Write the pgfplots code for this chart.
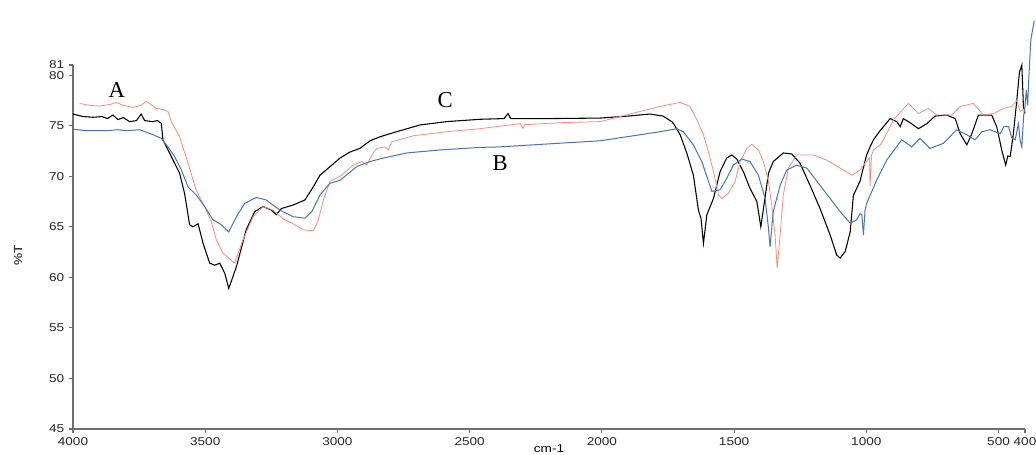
\documentclass[border=0pt]{standalone}
\usepackage{fontspec}
\setmainfont{Liberation Serif}
\newfontfamily\tickfont[FakeStretch=1.2]{Liberation Sans}
\usepackage{pgfplots}
\pgfplotsset{compat=1.18}
\definecolor{specred}{RGB}{248,140,125}
\definecolor{specblue}{RGB}{75,115,178}
\definecolor{axgray}{RGB}{110,110,110}

\begin{document}
\begin{tikzpicture}
\begin{axis}[
  name=ax,
  width=714pt, height=273pt, scale only axis,
  x dir=reverse,
  xmin=400, xmax=4000, ymin=45, ymax=81,
  axis lines=left,
  axis line style={axgray, line width=0.9pt, -},
  xtick={4000,3500,3000,2500,2000,1500,1000,500,400},
  ytick={45,50,55,60,65,70,75,80,81},
  tick align=outside,
  major tick length=3pt,
  tick style={axgray, line width=0.8pt},
  ticklabel style={font=\tickfont\fontsize{8.5}{9}\selectfont, text=black!85},
  /pgf/number format/assume math mode=true,
  /pgf/number format/set thousands separator={},
  clip=false,
]
% C (black)
\addplot[black, line width=0.8pt] coordinates {
(4000,76.15) (3962,75.9) (3924,75.83) (3890,75.9) (3870,75.7) (3849,76.05)
(3830,75.6) (3810,75.8) (3786,75.4) (3760,75.5) (3742,76.15) (3729,75.5)
(3700,75.4) (3680,75.5) (3666,75.23) (3660,73.6) (3634,72.26) (3597,70.3)
(3578,68.3) (3559,65.2) (3546,65.0) (3527,65.3) (3508,63.35) (3483,61.4)
(3464,61.2) (3445,61.4) (3426,60.4) (3411,58.9) (3382,61.05) (3345,64.7)
(3313,66.5) (3281,67.0) (3250,66.65) (3231,66.2) (3212,66.8) (3168,67.15)
(3123,67.65) (3091,68.96) (3066,70.1) (3028,70.95) (2990,71.8) (2952,72.4)
(2915,72.75) (2877,73.5) (2839,73.9) (2776,74.4) (2688,75.07) (2587,75.4)
(2461,75.63) (2370,75.7) (2355,76.2) (2345,75.7) (2200,75.7) (2007,75.75)
(1900,75.95) (1818,76.15) (1769,75.95) (1736,75.4) (1729,75.2) (1704,74.1)
(1679,72.3) (1654,70.1) (1635,66.65) (1625,65.8) (1616,63.35) (1603,66.2)
(1578,67.8) (1553,70.45) (1528,71.8) (1509,72.1) (1490,71.7) (1465,70.45)
(1440,68.8) (1414,67.5) (1399,65.0) (1387,67.15) (1370,70.3) (1352,71.45)
(1314,72.3) (1282,72.2) (1251,71.3) (1213,69.1) (1175,66.8) (1137,64.2)
(1112,62.2) (1099,61.9) (1080,62.55) (1061,64.5) (1049,68.1) (1024,69.5)
(999,72.1) (986,72.9) (973,73.6) (948,74.5) (910,75.7) (885,75.4)
(872,74.9) (860,75.7) (835,75.3) (803,74.7) (771,75.2) (740,75.95)
(696,76.05) (664,75.7) (645,74.2) (620,73.1) (601,74.2) (576,76.05)
(526,76.05) (507,74.9) (488,72.6) (473,71.1) (465,72.0) (456,71.95)
(444,74.2) (431,77.5) (421,80.3) (412,81.0) (406,76.9) (400,76.2)
};
% A (red)
\addplot[specred, line width=0.6pt] coordinates {
(3975,77.2) (3935,77.0) (3899,76.95) (3860,77.1) (3836,77.3) (3810,77.0)
(3773,76.8) (3745,77.0) (3723,77.4) (3700,77.0) (3685,76.7) (3660,76.6)
(3641,76.4) (3628,75.4) (3597,73.9) (3565,71.3) (3534,68.6) (3502,67.0)
(3477,65.5) (3458,63.7) (3433,62.4) (3389,61.4) (3357,63.7) (3319,66.0)
(3281,67.0) (3244,66.65) (3206,65.8) (3168,65.3) (3129,64.7) (3091,64.6)
(3072,65.7) (3053,67.65) (3028,69.5) (2990,70.0) (2940,71.1) (2908,71.45)
(2889,71.1) (2870,72.1) (2851,72.75) (2820,72.9) (2807,72.6) (2795,73.4)
(2713,74.0) (2587,74.4) (2461,74.7) (2309,75.2) (2298,74.75) (2290,75.1)
(2150,75.3) (2007,75.4) (1856,76.4) (1780,76.9) (1704,77.3) (1667,76.9)
(1641,75.6) (1616,74.1) (1597,72.4) (1578,70.45) (1559,68.15) (1547,67.8)
(1522,68.3) (1496,69.5) (1477,71.45) (1452,72.75) (1433,73.15) (1408,72.6)
(1389,71.45) (1370,69.5) (1358,67.15) (1345,64.2) (1337,60.9) (1326,64.2)
(1314,68.15) (1295,70.8) (1263,72.1) (1200,72.1) (1150,71.6) (1099,70.8)
(1055,70.1) (1024,70.6) (999,71.5) (988,71.8) (986,69.0) (980,72.1)
(973,72.6) (948,73.1) (935,73.6) (897,75.6) (841,77.2) (803,76.2)
(765,76.7) (734,76.05) (677,76.05) (645,76.9) (595,77.2) (557,76.05)
(519,76.2) (481,76.7) (450,76.9) (431,77.5) (418,76.4) (400,76.7)
};
% B (blue)
\addplot[specblue, line width=0.75pt] coordinates {
(4000,74.65) (3950,74.5) (3874,74.5) (3830,74.6) (3800,74.5) (3748,74.6)
(3697,74.1) (3666,73.75) (3641,72.9) (3615,71.9) (3590,70.6) (3565,68.95)
(3534,68.15) (3502,67.0) (3471,65.7) (3439,65.2) (3411,64.5) (3382,66.0)
(3351,67.3) (3307,67.9) (3269,67.65) (3218,66.65) (3168,66.0) (3123,65.85)
(3097,66.5) (3066,68.15) (3028,69.3) (2990,69.6) (2927,70.95) (2877,71.45)
(2826,71.8) (2738,72.3) (2612,72.6) (2461,72.85) (2385,72.9) (2200,73.2)
(2007,73.5) (1856,74.1) (1780,74.4) (1717,74.7) (1692,74.4) (1654,73.1)
(1622,71.45) (1597,69.5) (1584,68.5) (1553,68.65) (1528,69.8) (1503,71.1)
(1471,71.7) (1440,71.45) (1408,70.1) (1383,67.8) (1370,64.85) (1364,63.0)
(1352,66.5) (1326,69.1) (1301,70.6) (1263,71.1) (1225,70.8) (1187,69.5)
(1137,67.8) (1099,66.5) (1061,65.35) (1036,65.7) (1024,66.3) (1017,66.2)
(1011,64.2) (1005,66.6) (999,67.3) (961,69.6) (923,71.6) (866,73.6)
(828,72.9) (797,73.75) (759,72.75) (709,73.25) (658,74.6) (620,74.1)
(589,73.6) (563,74.4) (532,74.6) (494,74.2) (480,74.9) (462,74.9)
(450,73.8) (437,73.6) (425,75.2) (418,73.5) (412,72.9) (405,76.0)
(400,76.9) (395,78.5) (390,77.0) (385,80.0) (378,83.5) (365,85.4)
};
\node[font=\fontsize{17}{17}\selectfont] at (axis cs:3834,78.5) {A};
\node[font=\fontsize{17}{17}\selectfont] at (axis cs:2593,77.5) {C};
\node[font=\fontsize{17}{17}\selectfont] at (axis cs:2385,71.3) {B};
\node[font=\tickfont\fontsize{8.5}{9}\selectfont, rotate=90]
  at ([xshift=-41pt]axis cs:4000,62.2) {\%T};
\node[font=\tickfont\fontsize{8.5}{9}\selectfont, anchor=north, inner sep=1pt]
  at ([yshift=-10.5pt]axis cs:2200,45) {cm-1};
\end{axis}
\pgfresetboundingbox
\path[use as bounding box] ([xshift=-54.75pt,yshift=-19.5pt]ax.south west)
  rectangle ([xshift=8.25pt,yshift=48.75pt]ax.north east);
\end{tikzpicture}
\end{document}
